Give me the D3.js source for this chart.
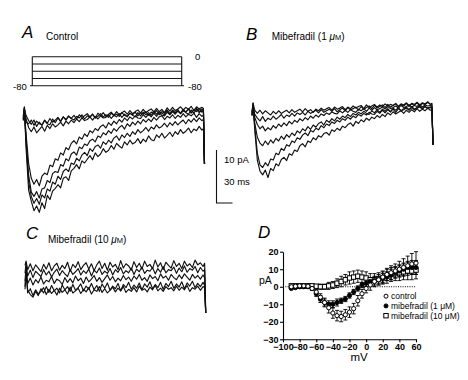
<!DOCTYPE html>
<html><head><meta charset="utf-8">
<script src="https://cdn.jsdelivr.net/npm/d3@7"></script>
<style>body{margin:0;background:#fff}svg{display:block}text{font-family:"Liberation Sans",Arial,sans-serif;fill:#000}</style>
</head><body>
<svg id="c" width="468" height="380"></svg>
<script>
// ---------- time grid (ms) shared by all current traces ----------
const tGrid = [0,2,5,10,15,20,25,30,35,40,45,50,55,60,65,70,75,80,85,90,95,100,105,110,115,120,125,130,135,140,145,150,155,160,165,170,175,180,185,190,195,200,205,210,215,220,225,230,235,240,245,250,255,260,265,270,275,280,285,290,295,300,305,310,315,320,325,330,335,338,340];

// ---------- Panel A: control traces (pA) ----------
const ctrlT1 = [0,2.2,-5.2,-13.4,-15.5,-17.3,-16.4,-17.6,-15.8,-16.9,-14.4,-15.2,-13.6,-13.1,-12.4,-13.0,-11.2,-10.9,-11.6,-9.8,-9.3,-8.6,-9.4,-7.9,-8.3,-7.6,-6.9,-7.7,-6.4,-7.1,-6.6,-5.6,-6.3,-5.9,-5.0,-5.7,-4.6,-5.1,-5.5,-4.3,-4.9,-4.0,-4.7,-4.4,-3.7,-4.6,-3.8,-4.3,-3.2,-3.9,-4.1,-3.0,-3.5,-2.7,-3.6,-3.1,-2.5,-3.3,-2.4,-2.9,-2.0,-2.7,-2.3,-1.7,-2.6,-1.9,-2.2,-1.4,-2.1,-1.8,-8.5];
const ctrlT2 = [0.3,1.8,-4.0,-11.8,-14.6,-15.9,-15.0,-16.1,-14.3,-14.9,-13.2,-13.6,-11.9,-12.3,-10.8,-11.4,-9.9,-9.4,-9.9,-8.3,-8.6,-7.4,-7.9,-6.8,-6.3,-6.9,-5.6,-6.1,-5.2,-4.9,-5.5,-4.3,-4.8,-4.0,-4.5,-3.6,-3.2,-4.0,-3.0,-3.5,-2.7,-3.3,-2.4,-2.9,-2.0,-2.6,-2.2,-1.6,-2.3,-1.5,-1.9,-1.1,-1.7,-1.4,-0.8,-1.5,-0.7,-1.2,-0.5,-1.1,-0.6,-0.2,-0.9,-0.1,-0.6,0.1,-0.5,0.2,-0.3,-0.1,-8.5];
const ctrlT3 = [-0.2,2.0,-3.4,-10.6,-13.8,-14.6,-13.7,-14.9,-13.2,-13.0,-11.6,-12.0,-10.3,-9.9,-10.1,-8.6,-8.9,-7.5,-7.9,-6.6,-6.2,-6.8,-5.3,-5.6,-4.7,-5.0,-4.1,-3.8,-4.3,-3.2,-3.5,-2.6,-3.0,-2.2,-2.7,-1.8,-2.3,-1.6,-1.2,-1.9,-0.9,-1.4,-0.6,-1.1,-0.4,-0.9,-0.1,-0.6,0.0,-0.5,0.3,-0.2,0.4,0.6,-0.1,0.5,0.2,0.8,0.1,0.7,0.3,1.0,0.4,0.9,0.6,1.1,0.3,1.0,0.5,0.7,-8.5];
const ctrlT4 = [0.0,1.5,-2.6,-8.4,-11.2,-12.3,-11.4,-12.6,-10.8,-10.2,-10.5,-8.7,-9.0,-7.5,-7.8,-6.4,-6.8,-5.4,-5.8,-4.6,-4.1,-4.7,-3.4,-3.8,-2.8,-3.3,-2.2,-2.6,-1.8,-2.2,-1.4,-1.1,-1.7,-0.7,-1.2,-0.4,-0.9,-0.1,-0.6,0.2,-0.3,0.4,0.0,0.6,0.2,0.1,0.8,0.3,0.9,0.4,1.1,0.5,1.2,0.7,0.6,1.3,0.8,1.4,0.9,1.5,1.0,1.6,1.2,0.9,1.7,1.1,1.8,1.2,1.6,1.3,-8.5];
const ctrlF1 = [0.4,2.3,0.1,-1.6,-2.4,-1.5,-2.6,-2.0,-1.4,-2.3,-1.2,-1.8,-0.9,-1.5,-1.1,-0.6,-1.3,-0.4,-0.9,-0.2,-0.7,0.0,-0.5,0.2,-0.3,-0.1,0.4,-0.2,0.5,0.0,0.6,0.2,0.3,0.8,0.1,0.7,0.4,1.0,0.3,0.9,0.5,1.1,0.7,0.4,1.2,0.6,1.3,0.8,1.2,0.7,1.5,0.9,1.4,1.1,0.8,1.6,1.0,1.7,1.2,1.5,1.1,1.8,1.3,1.9,1.2,1.7,2.0,1.4,1.9,1.6,-8.5];
const ctrlF2 = [-0.3,1.5,-0.6,-0.9,-0.2,-1.2,-0.4,-0.9,-1.1,-0.2,-0.8,0.1,-0.6,-0.2,0.3,-0.5,0.4,-0.1,0.6,0.1,-0.2,0.5,0.2,0.8,0.0,0.6,0.3,0.9,0.2,0.5,1.0,0.4,0.8,0.3,1.1,0.6,0.9,0.5,1.2,0.7,0.4,1.1,0.8,1.3,0.6,1.2,0.9,1.4,0.7,1.3,1.0,1.6,0.8,1.4,1.1,1.7,0.9,1.5,1.2,1.8,1.0,1.6,1.3,1.9,1.1,1.7,1.4,2.0,1.3,1.5,-8.5];
const ctrlF3 = [0.6,1.9,0.7,-0.3,-1.0,-0.2,-1.4,-0.6,-1.2,-0.3,-0.9,-1.1,0.0,-0.7,0.2,-0.4,0.4,-0.2,0.5,0.1,0.7,0.0,0.8,0.3,0.6,1.0,0.4,0.9,0.2,1.1,0.6,1.2,0.5,0.9,1.3,0.7,1.4,0.8,1.2,1.5,0.9,1.6,1.0,1.4,1.7,1.1,1.8,1.2,1.6,1.9,1.3,2.0,1.4,1.8,1.2,2.1,1.5,2.2,1.6,1.9,2.3,1.7,2.2,1.8,2.4,1.6,2.3,1.9,2.2,2.0,-8.5];

// ---------- Panel B: mibefradil 1 uM traces (pA) ----------
const mib1T1 = [0.0,2.2,-2.6,-8.5,-10.6,-11.3,-10.4,-11.8,-10.1,-10.5,-9.2,-9.6,-8.4,-8.0,-8.6,-7.3,-7.6,-6.6,-6.9,-5.8,-5.4,-6.0,-4.9,-5.2,-4.3,-4.7,-3.9,-4.2,-3.5,-3.3,-3.8,-2.8,-3.1,-2.5,-2.9,-2.1,-2.4,-1.8,-1.5,-2.1,-1.2,-1.6,-0.9,-1.3,-0.6,-1.0,-0.4,-0.7,-0.1,-0.5,0.1,-0.3,0.4,0.0,0.6,0.2,0.5,0.8,0.3,0.9,0.5,1.0,0.6,1.2,0.7,1.1,0.8,1.3,0.9,1.0,-5.6];
const mib1T2 = [0.2,1.8,-2.0,-7.2,-9.4,-9.9,-9.0,-9.6,-8.3,-8.5,-7.2,-7.5,-6.3,-6.7,-5.6,-5.9,-4.9,-5.2,-4.3,-4.6,-3.8,-3.4,-3.9,-2.9,-3.2,-2.5,-2.8,-2.0,-2.4,-1.7,-2.0,-1.3,-1.6,-1.0,-1.3,-0.7,-1.0,-0.4,-0.8,-0.2,-0.5,0.1,-0.2,0.3,0.0,0.5,0.2,0.1,0.7,0.3,0.9,0.4,1.0,0.6,1.1,0.5,1.2,0.8,1.0,1.3,0.9,1.4,1.0,1.3,1.5,1.1,1.6,1.2,1.4,1.2,-5.6];
const mib1T3 = [-0.2,1.6,-1.4,-4.2,-5.3,-5.8,-4.9,-5.6,-4.7,-5.3,-4.4,-4.9,-4.0,-4.6,-3.7,-4.2,-3.4,-3.9,-3.0,-3.4,-2.6,-3.0,-2.2,-2.7,-1.9,-2.3,-1.6,-1.3,-1.9,-1.0,-1.4,-0.7,-1.1,-0.4,-0.8,-0.2,-0.5,0.1,-0.3,0.3,0.0,0.5,0.2,0.7,0.3,0.1,0.8,0.4,1.0,0.5,1.1,0.7,1.2,0.6,1.3,0.9,1.4,0.8,1.2,1.5,1.0,1.6,1.1,1.4,1.7,1.2,1.6,1.3,1.5,1.3,-5.6];
const mib1T4 = [0.4,2.0,-0.4,-1.8,-2.6,-2.1,-3.0,-2.4,-2.8,-2.0,-2.5,-1.7,-2.2,-1.5,-2.0,-1.2,-1.7,-1.0,-1.4,-0.7,-1.1,-0.5,-0.9,-0.2,-0.6,0.0,-0.4,0.2,-0.1,0.4,0.1,0.6,0.3,0.2,0.8,0.4,0.9,0.5,1.0,0.7,0.5,1.1,0.8,1.2,0.7,1.3,0.9,1.4,1.0,1.2,1.5,1.1,1.6,1.2,1.4,1.7,1.3,1.8,1.4,1.6,1.9,1.5,1.8,1.6,2.0,1.5,1.9,1.7,1.8,1.5,-5.6];
const mib1T5 = [0.0,1.4,0.2,-0.6,-1.1,-0.3,-1.2,-0.6,-0.9,-0.2,-0.8,-0.4,0.1,-0.6,0.0,-0.3,0.3,-0.2,0.4,0.1,0.5,0.0,0.7,0.3,0.6,0.9,0.4,1.0,0.5,0.8,1.1,0.7,1.2,0.6,1.0,1.3,0.8,1.4,1.0,1.2,1.5,0.9,1.6,1.1,1.4,1.7,1.2,1.8,1.3,1.6,1.9,1.4,2.0,1.5,1.8,2.1,1.6,2.0,1.7,2.2,1.6,2.1,1.8,2.3,1.7,2.2,1.9,2.4,2.0,1.9,-5.6];
const mib1T6 = [0.6,2.3,0.9,0.3,0.9,0.2,0.8,0.4,0.0,0.7,0.2,0.8,0.3,0.6,0.9,0.4,1.0,0.5,0.8,1.1,0.6,1.2,0.7,1.0,0.5,1.1,0.8,1.3,0.9,1.2,1.4,0.9,1.5,1.1,1.3,1.6,1.0,1.5,1.2,1.7,1.3,1.6,1.8,1.2,1.9,1.4,1.7,2.0,1.5,1.9,1.6,2.1,1.7,2.0,1.8,2.2,1.6,2.1,1.9,2.3,1.8,2.2,2.0,2.4,1.9,2.3,2.1,2.5,2.0,2.2,-5.6];

// ---------- Panel C: mibefradil 10 uM traces (pA) ----------
const mib10T1 = [2.0,2.8,1.2,2.3,1.0,2.1,1.5,0.8,2.2,1.3,2.5,1.0,1.9,2.4,1.1,2.0,1.4,2.6,0.9,2.2,1.6,2.7,1.2,2.0,2.5,1.3,2.3,1.0,2.1,2.8,1.4,2.4,1.1,2.6,1.7,2.2,1.2,2.9,1.5,2.3,1.9,1.1,2.7,1.6,2.4,1.3,2.8,1.8,2.2,1.4,3.0,1.7,2.5,1.2,2.6,2.0,1.5,2.9,1.8,2.4,1.4,2.8,1.9,2.3,1.6,3.0,2.1,2.5,1.8,2.4,-7];
const mib10T2 = [0.5,2.5,0.0,1.1,-0.3,0.9,0.4,-0.1,1.2,0.2,0.9,-0.2,0.7,1.3,0.1,1.0,0.4,-0.1,1.2,0.3,0.8,1.4,0.2,1.0,0.5,1.3,0.0,1.1,0.6,1.5,0.3,0.9,0.5,1.4,0.2,1.2,0.7,1.6,0.4,1.0,0.6,1.5,0.3,1.3,0.8,1.7,0.5,1.1,0.9,1.6,0.4,1.4,0.7,1.8,0.6,1.2,1.0,1.7,0.5,1.5,0.8,1.9,0.7,1.4,1.1,1.8,0.6,1.6,0.9,1.2,-7];
const mib10T3 = [-1.0,1.8,-1.4,-0.4,-1.7,-0.7,-1.3,-0.2,-1.5,-0.8,-1.1,-0.1,-1.4,-0.6,-0.9,-1.6,-0.3,-1.2,-0.5,-1.3,0.0,-0.9,-0.4,-1.4,-0.2,-1.1,-0.6,0.1,-1.0,-0.3,-1.2,-0.5,0.2,-0.8,-0.1,-1.1,-0.4,-0.9,0.1,-0.7,-0.2,-1.0,0.0,-0.6,0.3,-0.8,-0.3,-1.0,0.2,-0.5,-0.1,-0.9,0.4,-0.4,0.0,-0.8,0.3,-0.3,-0.7,0.2,-0.5,0.4,-0.2,-0.8,0.3,-0.4,0.1,-0.6,0.2,-0.3,-7];
const mib10T4 = [-2.0,1.0,-2.6,-3.5,-4.0,-2.9,-3.7,-2.4,-3.2,-2.0,-3.1,-1.8,-2.8,-2.3,-3.2,-1.7,-2.6,-2.0,-2.9,-1.6,-2.7,-2.2,-1.5,-2.8,-1.9,-2.5,-1.4,-2.6,-1.8,-2.9,-1.5,-2.3,-1.3,-2.7,-1.9,-2.4,-1.4,-2.8,-1.6,-2.2,-1.2,-2.5,-1.7,-2.3,-1.3,-2.6,-1.5,-2.1,-1.1,-2.4,-1.6,-2.2,-1.2,-2.5,-1.4,-2.0,-1.0,-2.3,-1.5,-2.1,-1.1,-2.4,-1.3,-1.9,-1.0,-2.2,-1.4,-2.0,-1.2,-1.8,-7];
const mib10T5 = [-2.5,0.5,-3.2,-2.4,-3.7,-2.6,-3.4,-2.9,-2.2,-3.5,-2.5,-3.3,-2.7,-3.6,-2.3,-3.1,-2.6,-3.4,-2.1,-3.2,-2.8,-2.3,-3.3,-2.5,-3.0,-2.2,-3.4,-2.6,-2.9,-2.0,-3.1,-2.4,-3.2,-2.7,-2.1,-3.0,-2.3,-2.8,-2.0,-3.1,-2.5,-2.9,-2.2,-3.0,-1.9,-2.7,-2.4,-3.0,-2.1,-2.6,-1.8,-2.8,-2.3,-2.9,-2.0,-2.5,-2.2,-2.8,-1.9,-2.7,-2.1,-2.6,-1.8,-2.9,-2.2,-2.5,-1.9,-2.7,-2.0,-2.2,-7];

// ---------- voltage protocol (mV) ----------
const protoSteps = [0,-20,-40,-60,-80];

// ---------- Panel D: I-V relation ----------
const mV = [-90,-85,-80,-75,-70,-65,-60,-55,-50,-45,-40,-35,-30,-25,-20,-15,-10,-5,0,5,10,15,20,25,30,35,40,45,50,55,60];
const ivControl    = [0,0.3,0.5,0.5,0.3,-1,-3,-6,-9,-12,-15,-16.5,-17,-16,-14.5,-12.5,-8,-4,-1,1,3,4,5.5,7,8,9,10,11,12,13,13.5];
const ivControlErr = [0.5,0.5,0.5,0.5,0.5,1,1.5,2,2.5,3,3,3,3,3,3,3,3,2.5,2.5,3,3,3,3.5,3.5,4,4,4.5,5,5.5,6,6.5];
const ivMib1       = [-1,-0.5,0,0,0,-1,-4,-7,-9,-10,-10,-9,-8,-7,-5,-3,-1,1,2,3,3.5,4,5,6,7,8,9,10,11,11,11];
const ivMib1Err    = [0.5,0.5,0.5,0.5,0.5,1,1.5,2,2,2,2,2,1.5,1.5,1.5,1.5,1.5,1.5,2,2,2,2,2.5,2.5,3,3,3,3.5,3.5,4,4];
const ivMib10      = [0.5,0.5,0.5,0.5,0.5,0.5,0.3,0,0,0.5,1,2,3,4,5,5.5,6,5.5,5,4,4,4.5,5,6,7,7.5,8,8.5,9,9,9.5];
const ivMib10Err   = [1,1,1,1,1,1,1,1.5,1.5,2,2,2.5,3,3,3.5,3.5,3.5,3.5,3.5,3.5,3.5,3.5,3.5,4,4,4,4.5,4.5,5,5,5];
const xTicksD = [-100,-80,-60,-40,-20,0,20,40,60];
const yTicksD = [-30,-20,-10,0,10,20];
const legendLabels = ["control","mibefradil (1 μM)","mibefradil (10 μM)"];

const svg = d3.select("#c");
const line = (xs, ys) => d3.line().x((d,i)=>xs(tGrid[i])).y(d=>ys(d));

function label(x,y,txt,size,italic){
  return svg.append("text").attr("x",x).attr("y",y).attr("font-size",size)
    .attr("font-style",italic?"italic":"normal").text(txt);
}
function drugLabel(x,y,pre){
  const t = svg.append("text").attr("x",x).attr("y",y).attr("font-size",10);
  t.append("tspan").text(pre);
  t.append("tspan").attr("font-style","italic").text("μ");
  t.append("tspan").attr("font-size",7.5).text("M");
  t.append("tspan").text(")");
}
function traces(arr, xs, ys){
  svg.append("g").selectAll("path").data(arr).join("path")
    .attr("d", d=>line(xs,ys)(d)).attr("fill","none").attr("stroke","#111")
    .attr("stroke-width",1.15).attr("stroke-linejoin","round");
}

// ---- Panel A ----
label(22,38,"A",17,true);
label(46,40,"Control",10,false);
const yP = d3.scaleLinear().domain([0,-80]).range([56.7,85.7]);
const xP0 = 32.3, xP1 = 181.7;
svg.append("g").selectAll("line").data(protoSteps).join("line")
  .attr("x1",d=>d===-80?30:xP0).attr("x2",d=>d===-80?184:xP1)
  .attr("y1",d=>yP(d)).attr("y2",d=>yP(d)).attr("stroke","#111").attr("stroke-width",1.1);
[xP0,xP1].forEach(x=>svg.append("line").attr("x1",x).attr("x2",x).attr("y1",yP(0)).attr("y2",yP(-80)).attr("stroke","#111").attr("stroke-width",1.1));
label(195,60,"0",9.5,false);
label(13,89.5,"-80",9.5,false);
label(188,89.5,"-80",9.5,false);

const xA = d3.scaleLinear().domain([0,340]).range([23.3,204.5]);
const yA = d3.scaleLinear().domain([0,-10]).range([119,172]);
traces([ctrlF1,ctrlF2,ctrlF3,ctrlT4,ctrlT3,ctrlT2,ctrlT1], xA, yA);

// scale bar (10 pA, 30 ms)
const sbX = 216.5, sbY = 203;
const pxPerPA = yA(-10)-yA(0), pxPer30 = xA(30)-xA(0);
svg.append("path").attr("d",`M${sbX},${sbY-pxPerPA}V${sbY}H${sbX+pxPer30}`)
  .attr("fill","none").attr("stroke","#111").attr("stroke-width",1.1);
label(224,162.5,"10 pA",9.5,false);
label(224,185,"30 ms",9.5,false);

// ---- Panel B ----
label(246,40,"B",17,true);
drugLabel(271.7,40,"Mibefradil (1 ");
const xB = d3.scaleLinear().domain([0,340]).range([252,433]);
const yB = d3.scaleLinear().domain([0,-10]).range([115,168]);
traces([mib1T6,mib1T5,mib1T4,mib1T3,mib1T2,mib1T1], xB, yB);

// ---- Panel C ----
label(26,239,"C",17,true);
drugLabel(48,243,"Mibefradil (10 ");
const xC = d3.scaleLinear().domain([0,340]).range([25,205.7]);
const yC = d3.scaleLinear().domain([0,-10]).range([276,329]);
traces([mib10T1,mib10T2,mib10T3,mib10T4,mib10T5], xC, yC);

// ---- Panel D ----
label(258,238,"D",17,true);
const xD = d3.scaleLinear().domain([-100,60]).range([283,416]);
const yD = d3.scaleLinear().domain([-30,20]).range([339.3,251.7]);
const gx = svg.append("g").attr("transform",`translate(0,${yD(-30)})`)
  .call(d3.axisBottom(xD).tickValues(xTicksD).tickSize(3).tickSizeOuter(0).tickPadding(1.5));
const gy = svg.append("g").attr("transform",`translate(${xD(-100)},0)`)
  .call(d3.axisLeft(yD).tickValues(yTicksD).tickSize(3).tickSizeOuter(0).tickPadding(1.5));
[gx,gy].forEach(g=>{
  g.selectAll("text").attr("font-size",9).attr("font-family","Liberation Sans, Arial").attr("fill","#000").attr("font-weight","bold");
  g.selectAll("line,path").attr("stroke","#000").attr("stroke-width",1.1);
});
label(259,284,"pA",10.5,false);
svg.append("text").attr("x",359).attr("y",361).attr("text-anchor","middle").attr("font-size",11.5).text("mV");
// zero line
svg.append("line").attr("x1",xD(-100)).attr("x2",xD(60)).attr("y1",yD(0)).attr("y2",yD(0))
  .attr("stroke","#000").attr("stroke-width",1).attr("stroke-dasharray","1,1.3");

const seriesD = [
  {v:ivMib10, e:ivMib10Err, shape:"square", fill:"#fff"},
  {v:ivMib1, e:ivMib1Err, shape:"circle", fill:"#000"},
  {v:ivControl, e:ivControlErr, shape:"circle", fill:"#fff"}
];
seriesD.forEach(s=>{
  const g = svg.append("g");
  g.selectAll("path.eb").data(s.v).join("path").attr("class","eb")
    .attr("d",(d,i)=>{const x=xD(mV[i]), y1=yD(d-s.e[i]), y2=yD(d+s.e[i]);
      return `M${x},${y1}V${y2}M${x-2},${y1}H${x+2}M${x-2},${y2}H${x+2}`;})
    .attr("stroke","#000").attr("stroke-width",0.9).attr("fill","none");
});
seriesD.forEach(s=>{
  const g = svg.append("g");
  if(s.shape==="circle"){
    g.selectAll("circle").data(s.v).join("circle").attr("cx",(d,i)=>xD(mV[i])).attr("cy",d=>yD(d))
      .attr("r",2.1).attr("fill",s.fill).attr("stroke","#000").attr("stroke-width",1);
  } else {
    g.selectAll("rect").data(s.v).join("rect").attr("x",(d,i)=>xD(mV[i])-2.2).attr("y",d=>yD(d)-2.2)
      .attr("width",4.4).attr("height",4.4).attr("fill",s.fill).attr("stroke","#000").attr("stroke-width",1);
  }
});
// legend
const legY = [299,308.7,318.5];
legendLabels.forEach((t,i)=>{
  const y = legY[i];
  if(i<2) svg.append("circle").attr("cx",386).attr("cy",y-2.8).attr("r",2).attr("fill",i===1?"#000":"#fff").attr("stroke","#000").attr("stroke-width",1);
  else svg.append("rect").attr("x",383.8).attr("y",y-5).attr("width",4.4).attr("height",4.4).attr("fill","#fff").attr("stroke","#000").attr("stroke-width",1);
  svg.append("text").attr("x",391).attr("y",y).attr("font-size",8.5).text(t);
});
</script>
</body></html>
